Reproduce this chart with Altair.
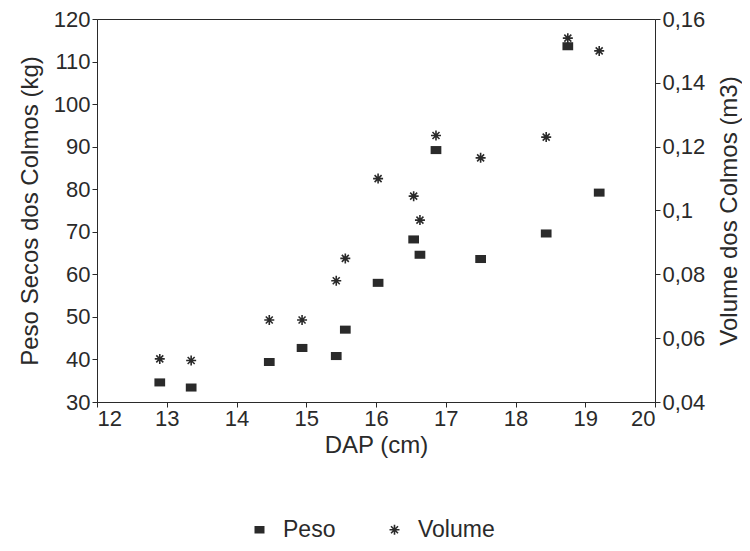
import altair as alt
import pandas as pd

# Data
dap = [12.9, 13.35, 14.47, 14.94, 15.43, 15.56, 16.03, 16.54, 16.63, 16.86, 17.5, 18.44, 18.75, 19.2]
peso = [34.6, 33.4, 39.4, 42.7, 40.8, 47.0, 58.0, 68.2, 64.6, 89.2, 63.6, 69.6, 113.6, 79.2]
volume = [0.0535, 0.0530, 0.0657, 0.0657, 0.0780, 0.0850, 0.1100, 0.1045, 0.0970, 0.1235, 0.1165, 0.1230, 0.1540, 0.1500]
series = ["Peso", "Volume"]

peso_ticks = [30, 40, 50, 60, 70, 80, 90, 100, 110, 120]
vol_ticks = [0.04, 0.06, 0.08, 0.1, 0.12, 0.14, 0.16]
dap_ticks = [12, 13, 14, 15, 16, 17, 18, 19, 20]

df_p = pd.DataFrame({"DAP": dap, "valor": peso, "serie": series[0]})
df_v = pd.DataFrame({"DAP": dap, "valor": volume, "serie": series[1]})

FONT = "Liberation Sans"
INK = "#2a2a2a"
rect_path = "M-1,-0.75L1,-0.75L1,0.75L-1,0.75Z"
# filled asterisk made of four thin bars (same winding so the union fills)
star_path = (
    "M-1,-0.16L1,-0.16L1,0.16L-1,0.16Z"
    "M-0.16,-1L0.16,-1L0.16,1L-0.16,1Z"
    "M-0.59,-0.81L0.81,0.59L0.59,0.81L-0.81,-0.59Z"
    "M-0.81,0.59L0.59,-0.81L0.81,-0.59L-0.59,0.81Z"
)

shape_scale = alt.Scale(domain=series, range=[rect_path, star_path])
legend = alt.Legend(
    title=None, orient="none", direction="horizontal",
    legendX=151, legendY=499,
    labelFont=FONT, labelFontSize=23, labelColor=INK,
    labelOffset=12, columnPadding=47,
    symbolSize=100, symbolFillColor=INK, symbolStrokeColor=INK,
    symbolStrokeWidth=0,
)

x_enc = alt.X(
    "DAP:Q",
    scale=alt.Scale(domain=[12, 20], nice=False, zero=False),
    axis=alt.Axis(values=dap_ticks, title="DAP (cm)", grid=False, tickSize=5,
                  labelPadding=1, titlePadding=4),
)

peso_layer = alt.Chart(df_p).mark_point(filled=True, size=115, color=INK, opacity=1).encode(
    x=x_enc,
    y=alt.Y(
        "valor:Q",
        scale=alt.Scale(domain=[30, 120], nice=False, zero=False),
        axis=alt.Axis(values=peso_ticks, title="Peso Secos dos Colmos (kg)", grid=False,
                      tickSize=5, labelPadding=2, titlePadding=11, orient="left"),
    ),
    shape=alt.Shape("serie:N", scale=shape_scale, legend=legend),
)

vol_layer = alt.Chart(df_v).mark_point(filled=True, size=100, color=INK, strokeWidth=0, opacity=1).encode(
    x=x_enc,
    y=alt.Y(
        "valor:Q",
        scale=alt.Scale(domain=[0.04, 0.16], nice=False, zero=False),
        axis=alt.Axis(values=vol_ticks, title="Volume dos Colmos (m3)", grid=False,
                      tickSize=5, labelPadding=2, titlePadding=37, orient="right",
                      titleAngle=270,
                      labelExpr="replace(format(datum.value, '.2~f'), '.', ',')"),
    ),
    shape=alt.Shape("serie:N", scale=shape_scale, legend=legend),
)

chart = (
    alt.layer(peso_layer, vol_layer)
    .resolve_scale(y="independent")
    .properties(
        width=558, height=383,
        autosize=alt.AutoSizeParams(type="none"),
        padding={"left": 89, "top": 11, "right": 87, "bottom": 140},
        background="white",
    )
    .configure_view(stroke=INK, strokeWidth=1)
    .configure_axis(
        labelFont=FONT, titleFont=FONT, labelFontSize=22, titleFontSize=24,
        labelColor=INK, titleColor=INK, domainColor=INK, tickColor=INK,
        titleFontWeight="normal",
    )
)

chart.save("out.html", embed_options={"renderer": "svg", "actions": False})
